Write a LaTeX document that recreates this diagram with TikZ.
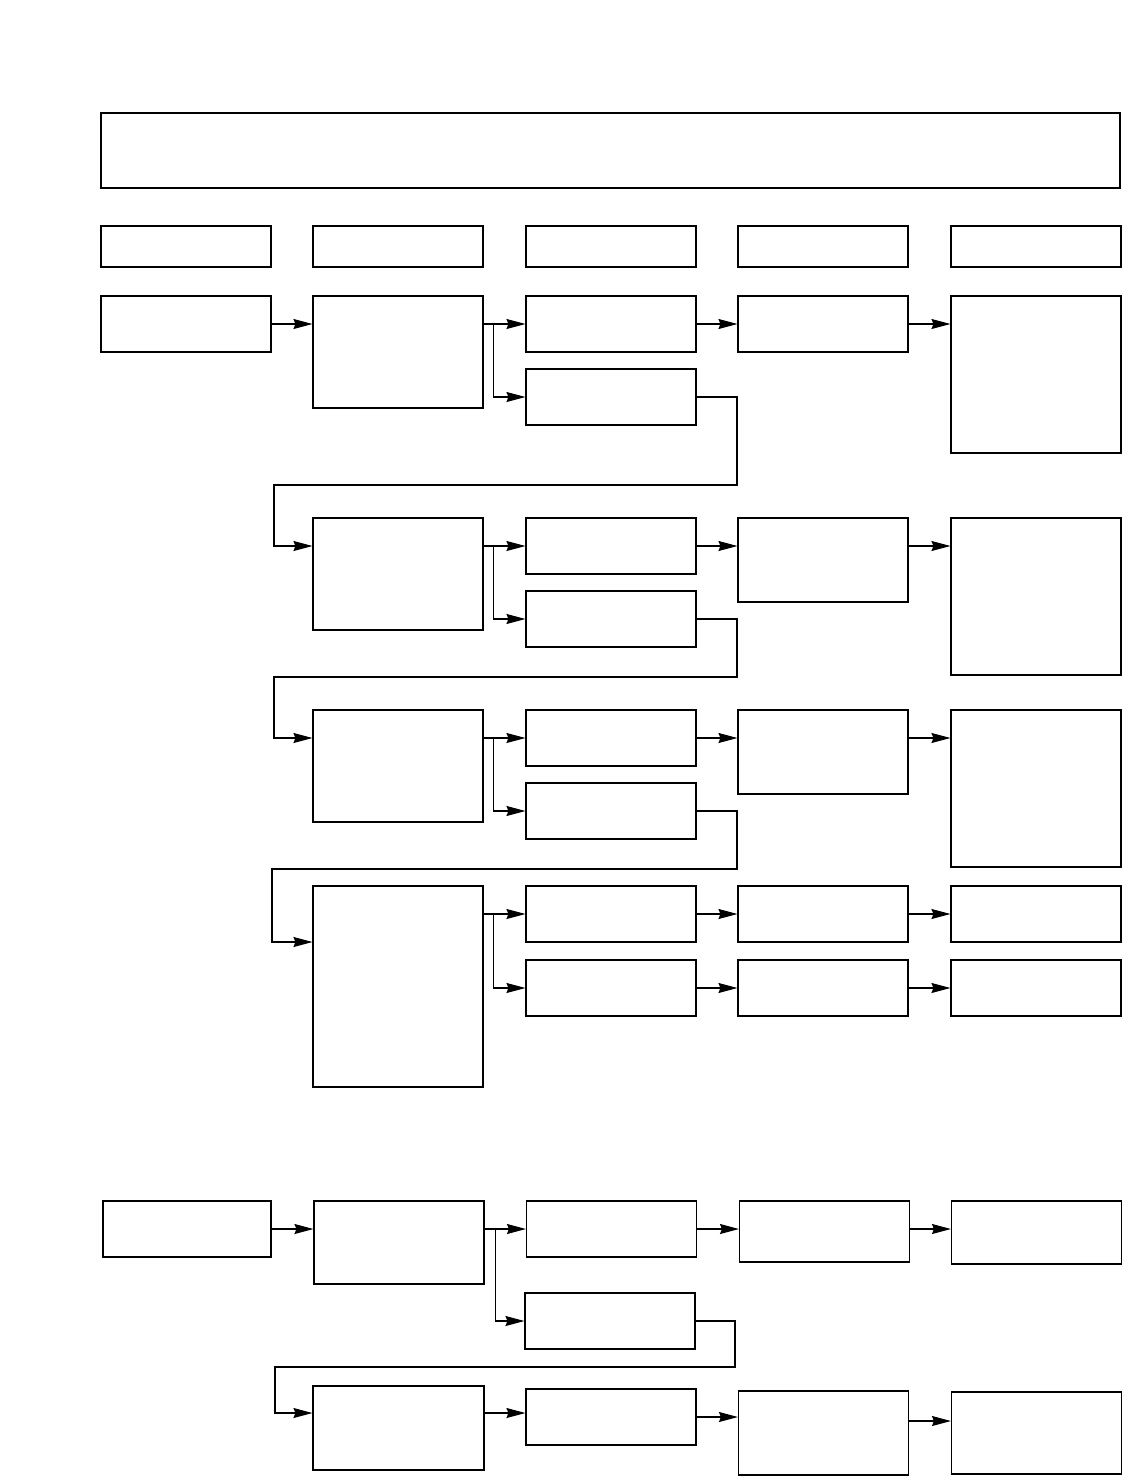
\documentclass[tikz,border=0pt]{standalone}
\usetikzlibrary{arrows.meta}
\begin{document}
\begin{tikzpicture}[x=1pt, y=-1pt, line width=1.1pt,
  >={Stealth[length=19pt,width=10pt,inset=2pt]},
  box/.style={draw, minimum width=170pt, minimum height=56pt, inner sep=0pt}]
\useasboundingbox (0,0) rectangle (1123,1476);

\node[box, minimum width=1019pt, minimum height=75pt](T) at (610.5,150.5){};

\node[box, minimum height=41pt](K1) at (186,246.5){};
\node[box, minimum height=41pt](K2) at (398,246.5){};
\node[box, minimum height=41pt](K3) at (611,246.5){};
\node[box, minimum height=41pt](K4) at (823,246.5){};
\node[box, minimum height=41pt](K5) at (1036,246.5){};

% first row
\node[box](A1) at (186,324){};
\node[box, minimum height=112pt](B1) at (398,352){};
\node[box](C1) at (611,324){};
\node[box](C1x) at (611,397){};
\node[box](D1) at (823,324){};
\node[box, minimum height=157pt](E1) at (1036,374.5){};

\draw[->](A1)--(B1.west |- A1);
\draw[->](B1.east |- C1)--(C1);
\coordinate (f1) at ([xshift=10pt]B1.east |- C1);
\draw[->](f1) |- (C1x);
\draw[->](C1)--(D1);
\draw[->](D1)--(E1.west |- D1);

% second row
\node[box, minimum height=112pt](B2) at (398,574){};
\node[box](C2) at (611,546){};
\node[box](C2x) at (611,619){};
\node[box, minimum height=84pt](D2) at (823,560){};
\node[box, minimum height=157pt](E2) at (1036,596.5){};

\draw[->](C1x.east) -| (737,485) -| (274,546) -- (B2.west |- C2);
\draw[->](B2.east |- C2)--(C2);
\coordinate (f2) at ([xshift=10pt]B2.east |- C2);
\draw[->](f2) |- (C2x);
\draw[->](C2)--(D2.west |- C2);
\draw[->](D2.east |- C2)--(E2.west |- C2);

% third row
\node[box, minimum height=112pt](B3) at (398,766){};
\node[box](C3) at (611,738){};
\node[box](C3x) at (611,811){};
\node[box, minimum height=84pt](D3) at (823,752){};
\node[box, minimum height=157pt](E3) at (1036,788.5){};

\draw[->](C2x.east) -| (737,677) -| (274,738) -- (B3.west |- C3);
\draw[->](B3.east |- C3)--(C3);
\coordinate (f3) at ([xshift=10pt]B3.east |- C3);
\draw[->](f3) |- (C3x);
\draw[->](C3)--(D3.west |- C3);
\draw[->](D3.east |- C3)--(E3.west |- C3);

% fourth row
\node[box, minimum height=201pt](B4) at (398,986.5){};
\node[box](C4) at (611,914){};
\node[box](C4x) at (611,988){};
\node[box](D4) at (823,914){};
\node[box](D4x) at (823,988){};
\node[box](E4) at (1036,914){};
\node[box](E4x) at (1036,988){};

\draw[->](C3x.east) -| (737,869) -| (272,942) -- (B4.west |- 0,942);
\draw[->](B4.east |- C4)--(C4);
\coordinate (f4) at ([xshift=10pt]B4.east |- C4);
\draw[->](f4) |- (C4x);
\draw[->](C4)--(D4);
\draw[->](D4)--(E4);
\draw[->](C4x)--(D4x);
\draw[->](D4x)--(E4x);

% lower part
\node[box, minimum width=168pt](P1) at (187,1229){};
\node[box, minimum height=83pt](Q1) at (399,1242.5){};
\node[box](R1) at (611.5,1229){};
\node[box](R1x) at (610,1321){};
\node[box, minimum height=61pt](S1) at (824.5,1231.5){};
\node[box, minimum height=63pt](U1) at (1036.5,1232.5){};

\draw[->](P1)--(Q1.west |- P1);
\draw[->](Q1.east |- R1)--(R1);
\coordinate (g1) at ([xshift=11pt]Q1.east |- R1);
\draw[->](g1) |- (R1x);
\draw[->](R1)--(S1.west |- R1);
\draw[->](S1.east |- R1)--(U1.west |- R1);

\node[box, minimum width=171pt, minimum height=84pt](Q2) at (398.5,1428){};
\node[box](R2) at (611,1417){};
\node[box, minimum height=84pt](S2) at (823.5,1433){};
\node[box, minimum height=82pt](U2) at (1036.5,1433){};

\draw[->](R1x.east) -| (735,1367) -| (275,1413) -- (Q2.west |- 0,1413);
\draw[->](Q2.east |- 0,1413)--(R2.west |- 0,1413);
\draw[->](R2)--(S2.west |- R2);
\draw[->](S2.east |- 0,1421)--(U2.west |- 0,1421);
\end{tikzpicture}
\end{document}
